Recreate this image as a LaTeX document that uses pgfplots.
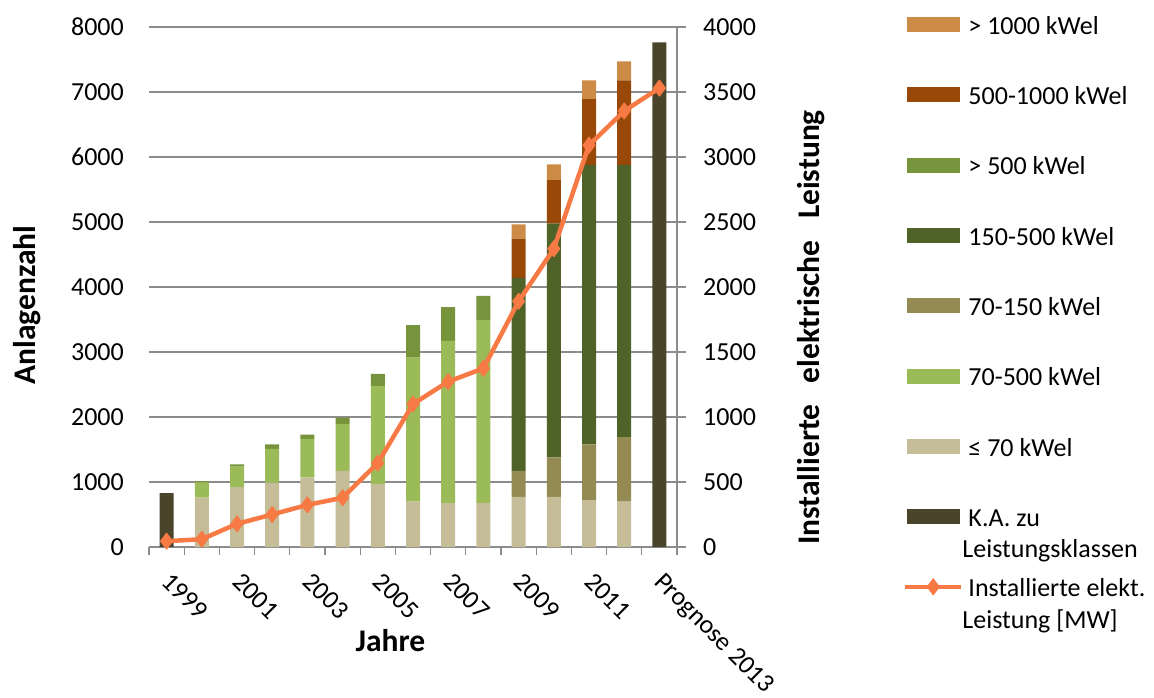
\documentclass[border=0pt]{standalone}
\usepackage{fontspec}
\setmainfont{Carlito}
\usepackage{pgfplots}
\usepackage{pgfplotstable}
\pgfplotsset{compat=1.18}

\definecolor{cKA}{HTML}{4A452A}
\definecolor{cLE}{HTML}{C4BD97}
\definecolor{cAF}{HTML}{9BBB59}
\definecolor{cAE}{HTML}{948A54}
\definecolor{cFF}{HTML}{4F6228}
\definecolor{cGF}{HTML}{77933C}
\definecolor{cFT}{HTML}{984807}
\definecolor{cGT}{HTML}{CD8B48}
\definecolor{cline}{HTML}{F77A45}
\definecolor{gridgray}{HTML}{8C8C8C}

\newcommand{\ticksfont}{\fontsize{26}{31.2}\selectfont}
\newcommand{\titlefont}{\bfseries\fontsize{31.5}{38}\selectfont}

\pgfplotstableread{
x ka   le70 a70to500 a70to150 a150to500 gt500 a500to1000 gt1000
0  830  0    0    0    0    0    0    0
1  0    760  235  0    0    20   0    0
2  0    920  315  0    0    35   0    0
3  0    990  520  0    0    70   0    0
4  0    1070 595  0    0    65   0    0
5  0    1170 725  0    0    95   0    0
6  0    970  1510 0    0    185  0    0
7  0    700  2215 0    0    500  0    0
8  0    680  2490 0    0    520  0    0
9  0    680  2810 0    0    375  0    0
10 0    770  0    400  2970 0    605  220
11 0    770  0    610  3595 0    670  240
12 0    720  0    860  4300 0    1010 290
13 0    700  0    990  4190 0    1300 290
14 7765 0    0    0    0    0    0    0
}\bars

\pgfplotstableread{
x mw
0  45
1  60
2  178
3  250
4  324
5  379
6  646
7  1100
8  1272
9  1374
10 1890
11 2294
12 3091
13 3354
14 3530
}\power

\begin{document}
\begin{tikzpicture}
\useasboundingbox (0pt,0pt) rectangle (1154pt,697pt);
\begin{axis}[
  at={(149pt,150pt)}, anchor=south west,
  scale only axis, width=528pt, height=520pt,
  xmin=-0.5, xmax=14.5, ymin=0, ymax=8000,
  ybar stacked, bar width=14pt,
  axis x line*=bottom, axis y line*=left,
  y axis line style={draw=none},
  x axis line style={draw=gridgray, line width=1.2pt},
  xtick={0,2,4,6,8,10,12,14},
  xticklabels={1999,2001,2003,2005,2007,2009,2011,Prognose 2013},
  minor xtick={-0.5,0.5,...,14.5},
  tick align=outside, major tick length=0pt, minor tick length=8pt,
  xtick style={draw=gridgray, line width=1.2pt},
  ytick={0,1000,...,8000},
  ytick style={draw=none},
  ymajorgrids, grid style={gridgray, line width=1.2pt},
  /pgf/number format/assume math mode=true,
  /pgf/number format/1000 sep={},
  tick label style={font=\ticksfont},
  yticklabel style={anchor=east, inner sep=0pt, xshift=-25pt},
  xticklabel style={xshift=6pt, yshift=-24pt, rotate=-45, anchor=north west, inner sep=0pt},
  xlabel={Jahre},
  xlabel style={font=\titlefont, at={(axis description cs:0.4574,-0.1808)}, anchor=center},
  ylabel={Anlagenzahl},
  ylabel style={font=\titlefont, at={(axis description cs:-0.2311,0.4654)}, anchor=center},
]
\addplot[fill=cKA, draw=none] table[x=x, y=ka] {\bars};
\addplot[fill=cLE, draw=none] table[x=x, y=le70] {\bars};
\addplot[fill=cAF, draw=none] table[x=x, y=a70to500] {\bars};
\addplot[fill=cAE, draw=none] table[x=x, y=a70to150] {\bars};
\addplot[fill=cFF, draw=none] table[x=x, y=a150to500] {\bars};
\addplot[fill=cGF, draw=none] table[x=x, y=gt500] {\bars};
\addplot[fill=cFT, draw=none] table[x=x, y=a500to1000] {\bars};
\addplot[fill=cGT, draw=none] table[x=x, y=gt1000] {\bars};
\end{axis}

\begin{axis}[
  at={(149pt,150pt)}, anchor=south west,
  scale only axis, width=528pt, height=520pt,
  xmin=-0.5, xmax=14.5, ymin=0, ymax=4000,
  axis x line=none, axis y line*=right,
  y axis line style={draw=gridgray, line width=1.2pt},
  ytick={0,500,...,4000},
  ytick style={draw=gridgray, line width=1.2pt},
  tick align=outside, major tick length=9pt,
  /pgf/number format/assume math mode=true,
  /pgf/number format/1000 sep={},
  tick label style={font=\ticksfont},
  yticklabel style={anchor=west, inner sep=0pt, xshift=17pt},
  ylabel={Installierte\ \ \ elektrische\ \ \ Leistung},
  ylabel style={font=\titlefont, at={(axis description cs:1.2538,0.4221)}, anchor=center},
  legend style={at={(axis description cs:1.428,1.0281)}, anchor=north west,
    draw=none, fill=none, inner sep=0pt, outer sep=0pt,
    row sep=47pt, column sep=5pt, font=\ticksfont,
    nodes={inner sep=0pt, anchor=west}},
  legend cell align=left,
]
\addlegendimage{legend image code/.code={\fill[cGT] (0pt,-7pt) rectangle (52pt,7pt);}}
\addlegendentry{\strut> 1000 kWel}
\addlegendimage{legend image code/.code={\fill[cFT] (0pt,-7pt) rectangle (52pt,7pt);}}
\addlegendentry{\strut 500-1000 kWel}
\addlegendimage{legend image code/.code={\fill[cGF] (0pt,-7pt) rectangle (52pt,7pt);}}
\addlegendentry{\strut> 500 kWel}
\addlegendimage{legend image code/.code={\fill[cFF] (0pt,-7pt) rectangle (52pt,7pt);}}
\addlegendentry{\strut 150-500 kWel}
\addlegendimage{legend image code/.code={\fill[cAE] (0pt,-7pt) rectangle (52pt,7pt);}}
\addlegendentry{\strut 70-150 kWel}
\addlegendimage{legend image code/.code={\fill[cAF] (0pt,-7pt) rectangle (52pt,7pt);}}
\addlegendentry{\strut 70-500 kWel}
\addlegendimage{legend image code/.code={\fill[cLE] (0pt,-7pt) rectangle (52pt,7pt);}}
\addlegendentry{\strut ≤ 70 kWel}
\addlegendimage{legend image code/.code={\fill[cKA] (0pt,-7pt) rectangle (52pt,7pt);}}
\addlegendentry{\strut\smash{\parbox[t]{190pt}{K.A. zu\\\hspace*{-6pt}Leistungsklassen}}}
\addplot[color=cline, line width=4.5pt, line join=round, mark=diamond*, mark size=8pt,
  mark options={line width=1pt},
  legend image code/.code={\draw[mark repeat=2,mark phase=2] plot coordinates {(-2pt,0pt) (26pt,0pt) (54pt,0pt)};}]
  table[x=x, y=mw] {\power};
\addlegendentry{\strut\smash{\parbox[t]{190pt}{Installierte elekt.\\\hspace*{-6pt}Leistung [MW]}}}
\end{axis}
\end{tikzpicture}
\end{document}
